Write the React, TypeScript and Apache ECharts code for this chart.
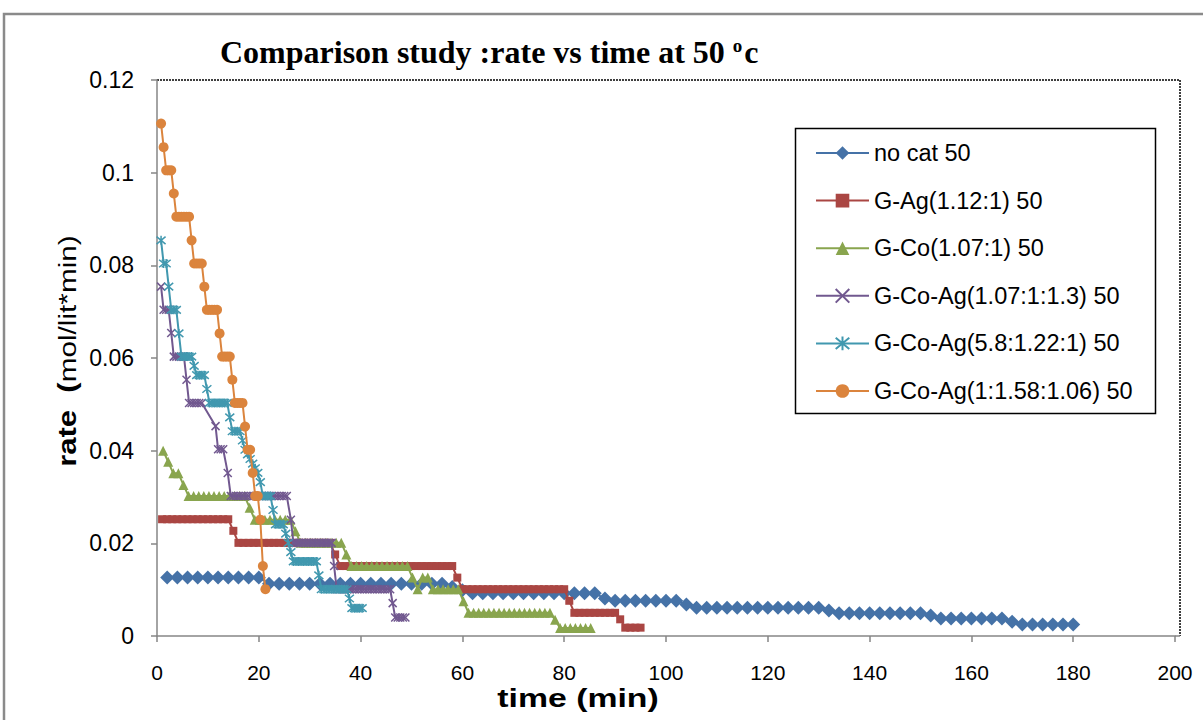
import React, { useEffect, useRef } from "react";
import * as echarts from "echarts";

const SANS = '"Liberation Sans", Arial, sans-serif';
const SERIF = '"Liberation Serif", "Times New Roman", serif';

const seriesNames = [
  "no cat 50",
  "G-Ag(1.12:1) 50",
  "G-Co(1.07:1) 50",
  "G-Co-Ag(1.07:1:1.3) 50",
  "G-Co-Ag(5.8:1.22:1) 50",
  "G-Co-Ag(1:1.58:1.06) 50",
];

const xTicks = [0, 20, 40, 60, 80, 100, 120, 140, 160, 180, 200];
const yTicks = [0, 0.02, 0.04, 0.06, 0.08, 0.1, 0.12];

// no cat 50
const noCatTime = [
  2, 4, 6, 8, 10, 12, 14, 16, 18, 20, 22, 24, 26, 28, 30, 32, 34, 36, 38, 40,
  42, 44, 46, 48, 50, 52, 54, 56, 58, 60, 62, 64, 66, 68, 70, 72, 74, 76, 78, 80,
  82, 84, 86, 88, 90, 92, 94, 96, 98, 100, 102, 104, 106, 108, 110, 112, 114, 116, 118, 120,
  122, 124, 126, 128, 130, 132, 134, 136, 138, 140, 142, 144, 146, 148, 150, 152, 154, 156, 158, 160,
  162, 164, 166, 168, 170, 172, 174, 176, 178, 180,
];
const noCatRate = [
  0.0126, 0.0126, 0.0126, 0.0126, 0.0126, 0.0126, 0.0126, 0.0126, 0.0126, 0.0126,
  0.0113, 0.0113, 0.0113, 0.0113, 0.0113, 0.0113, 0.0113, 0.0113, 0.0113, 0.0113,
  0.0113, 0.0113, 0.0113, 0.0113, 0.0113, 0.0113, 0.0113, 0.0113, 0.0106, 0.0099,
  0.0092, 0.0092, 0.0092, 0.0092, 0.0092, 0.0092, 0.0092, 0.0092, 0.0092, 0.0092,
  0.0092, 0.0092, 0.0092, 0.0081, 0.0076, 0.0076, 0.0076, 0.0076, 0.0076, 0.0076,
  0.0076, 0.0068, 0.0061, 0.0061, 0.0061, 0.0061, 0.0061, 0.0061, 0.0061, 0.0061,
  0.0061, 0.0061, 0.0061, 0.0061, 0.0061, 0.0055, 0.0049, 0.0049, 0.0049, 0.0049,
  0.0049, 0.0049, 0.0049, 0.0049, 0.0049, 0.0044, 0.0038, 0.0038, 0.0038, 0.0038,
  0.0038, 0.0038, 0.0038, 0.0031, 0.0025, 0.0025, 0.0025, 0.0025, 0.0025, 0.0025,
];

// G-Ag(1.12:1) 50
const agTime = [
  1, 2, 3, 4, 5, 6, 7, 8, 9, 10, 11, 12, 13, 14, 15, 16, 17, 18, 19, 20,
  21, 22, 23, 24, 25, 26, 27, 28, 29, 30, 31, 32, 33, 34, 35, 36, 37, 38, 39, 40,
  41, 42, 43, 44, 45, 46, 47, 48, 49, 50, 51, 52, 53, 54, 55, 56, 57, 58, 59, 60,
  61, 62, 63, 64, 65, 66, 67, 68, 69, 70, 71, 72, 73, 74, 75, 76, 77, 78, 79, 80,
  81, 82, 83, 84, 85, 86, 87, 88, 89, 90, 91, 92, 93, 94, 95,
];
const agRate = [
  0.0252, 0.0252, 0.0252, 0.0252, 0.0252, 0.0252, 0.0252, 0.0252, 0.0252, 0.0252,
  0.0252, 0.0252, 0.0252, 0.0252, 0.0227, 0.0201, 0.0201, 0.0201, 0.0201, 0.0201,
  0.0201, 0.0201, 0.0201, 0.0201, 0.0201, 0.0201, 0.0201, 0.0201, 0.0201, 0.0201,
  0.0201, 0.0201, 0.0201, 0.0201, 0.0176, 0.0151, 0.0151, 0.0151, 0.0151, 0.0151,
  0.0151, 0.0151, 0.0151, 0.0151, 0.0151, 0.0151, 0.0151, 0.0151, 0.0151, 0.0151,
  0.0151, 0.0151, 0.0151, 0.0151, 0.0151, 0.0151, 0.0151, 0.0151, 0.0126, 0.0101,
  0.0101, 0.0101, 0.0101, 0.0101, 0.0101, 0.0101, 0.0101, 0.0101, 0.0101, 0.0101,
  0.0101, 0.0101, 0.0101, 0.0101, 0.0101, 0.0101, 0.0101, 0.0101, 0.0101, 0.0101,
  0.0076, 0.005, 0.005, 0.005, 0.005, 0.005, 0.005, 0.005, 0.005, 0.005,
  0.0036, 0.0018, 0.0018, 0.0018, 0.0018,
];

// G-Co(1.07:1) 50
const coTime = [
  1.2, 2.2, 3.2, 4.2, 5.2, 6.2, 7.2, 8.2, 9.2, 10.2, 11.2, 12.2, 13.2, 14.2, 15.2, 16.2, 17.2, 18.2, 19.2, 20.2,
  21.2, 22.2, 23.2, 24.2, 25.2, 26.2, 27.2, 28.2, 29.2, 30.2, 31.2, 32.2, 33.2, 34.2, 35.2, 36.2, 37.2, 38.2, 39.2, 40.2,
  41.2, 42.2, 43.2, 44.2, 45.2, 46.2, 47.2, 48.2, 49.2, 50.2, 51.2, 52.2, 53.2, 54.2, 55.2, 56.2, 57.2, 58.2, 59.2, 60.2,
  61.2, 62.2, 63.2, 64.2, 65.2, 66.2, 67.2, 68.2, 69.2, 70.2, 71.2, 72.2, 73.2, 74.2, 75.2, 76.2, 77.2, 78.2, 79.2, 80.2,
  81.2, 82.2, 83.2, 84.2, 85.2,
];
const coRate = [
  0.04, 0.0376, 0.0351, 0.0351, 0.0326, 0.0302, 0.0302, 0.0302, 0.0302, 0.0302,
  0.0302, 0.0302, 0.0302, 0.0302, 0.0302, 0.0302, 0.0302, 0.0277, 0.0251, 0.0251,
  0.0251, 0.0251, 0.0251, 0.0251, 0.0251, 0.0251, 0.0226, 0.0201, 0.0201, 0.0201,
  0.0201, 0.0201, 0.0201, 0.0201, 0.0201, 0.0201, 0.0176, 0.0151, 0.0151, 0.0151,
  0.0151, 0.0151, 0.0151, 0.0151, 0.0151, 0.0151, 0.0151, 0.0151, 0.0151, 0.0126,
  0.0101, 0.0126, 0.0126, 0.0101, 0.0101, 0.0101, 0.0101, 0.0101, 0.0101, 0.0075,
  0.005, 0.005, 0.005, 0.005, 0.005, 0.005, 0.005, 0.005, 0.005, 0.005,
  0.005, 0.005, 0.005, 0.005, 0.005, 0.005, 0.005, 0.0035, 0.0017, 0.0017,
  0.0017, 0.0017, 0.0017, 0.0017, 0.0017,
];

// G-Co-Ag(1.07:1:1.3) 50
const coAg1Time = [
  0.8, 1.3, 1.8, 2.3, 2.8, 3.3, 3.8, 4.3, 4.8, 5.3, 5.8, 6.3, 6.8, 7.3, 7.8, 8.3, 8.8,
  11.5, 12, 12.5, 13, 13.9,
  14.5, 15, 15.5, 16, 16.5, 17, 17.5, 18, 18.5, 19, 19.5, 20, 20.5, 21, 21.5, 22, 22.5, 23, 23.5, 24, 24.5, 25, 25.5,
  26.3,
  26.8, 27.3, 27.8, 28.3, 28.8, 29.3, 29.8, 30.3, 30.8, 31.3, 31.8, 32.3, 32.8, 33.3, 33.8, 34.3,
  34.8,
  35.3, 35.8, 36.3, 36.8, 37.3, 37.8, 38.3, 38.8, 39.3, 39.8, 40.3, 40.8, 41.3, 41.8, 42.3, 42.8, 43.3, 43.8, 44.3, 44.8, 45.3, 45.8,
  46.3,
  46.8, 47.3, 47.8, 48.3, 48.8,
];
const coAg1Rate = [
  0.0754, 0.0704, 0.0704, 0.0704, 0.0654, 0.0603, 0.0603, 0.0603, 0.0603, 0.0603, 0.0553, 0.0503, 0.0503, 0.0503, 0.0503, 0.0503, 0.0503,
  0.0453, 0.0403, 0.0403, 0.0403, 0.0352,
  0.0302, 0.0302, 0.0302, 0.0302, 0.0302, 0.0302, 0.0302, 0.0302, 0.0302, 0.0302, 0.0302, 0.0302, 0.0302, 0.0302, 0.0302, 0.0302, 0.0302, 0.0302, 0.0302, 0.0302, 0.0302, 0.0302, 0.0302,
  0.0251,
  0.0201, 0.0201, 0.0201, 0.0201, 0.0201, 0.0201, 0.0201, 0.0201, 0.0201, 0.0201, 0.0201, 0.0201, 0.0201, 0.0201, 0.0201, 0.0201,
  0.0151,
  0.0101, 0.0101, 0.0101, 0.0101, 0.0101, 0.0101, 0.0101, 0.0101, 0.0101, 0.0101, 0.0101, 0.0101, 0.0101, 0.0101, 0.0101, 0.0101, 0.0101, 0.0101, 0.0101, 0.0101, 0.0101, 0.0101,
  0.0071,
  0.004, 0.004, 0.004, 0.004, 0.004,
];

// G-Co-Ag(5.8:1.22:1) 50
const coAg2Time = [
  0.8, 1.3, 1.8, 2.3, 2.8, 3.3, 3.8, 4.3, 4.8, 5.3, 5.8, 6.3, 6.8, 7.3, 7.8, 8.3, 8.8, 9.3, 9.8, 10.3,
  10.8, 11.3, 11.8, 12.3, 12.8, 13.3, 13.8, 14.3, 14.8, 15.3, 15.8, 16.3, 16.8, 17.3, 17.8, 18.3, 18.8, 19.3, 19.8, 20.3,
  20.8, 21.3, 21.8, 22.3, 22.8, 23.3, 23.8, 24.3, 24.8, 25.3, 25.8, 26.3, 26.8, 27.3, 27.8, 28.3, 28.8, 29.3, 29.8, 30.3,
  30.8, 31.3, 31.8, 32.3, 32.8, 33.3, 33.8, 34.3, 34.8, 35.3, 35.8, 36.3, 36.8, 37.3, 37.8, 38.3, 38.8, 39.3, 39.8, 40.3,
];
const coAg2Rate = [
  0.0854, 0.0804, 0.0804, 0.0754, 0.0704, 0.0704, 0.0704, 0.0653, 0.0603, 0.0603,
  0.0603, 0.0603, 0.0603, 0.0583, 0.0563, 0.0563, 0.0563, 0.0563, 0.0533, 0.0503,
  0.0503, 0.0503, 0.0503, 0.0503, 0.0503, 0.0503, 0.0503, 0.0472, 0.0442, 0.0442,
  0.0442, 0.0442, 0.0422, 0.0402, 0.0392, 0.0382, 0.0372, 0.0362, 0.0352, 0.0332,
  0.0302, 0.0302, 0.0302, 0.0302, 0.0272, 0.0241, 0.0241, 0.0241, 0.0241, 0.0221,
  0.0201, 0.0181, 0.0161, 0.0161, 0.0161, 0.0161, 0.0161, 0.0161, 0.0161, 0.0161,
  0.0161, 0.0161, 0.0131, 0.0101, 0.0101, 0.0101, 0.0101, 0.0101, 0.0101, 0.0101,
  0.0101, 0.0101, 0.0101, 0.0101, 0.0081, 0.006, 0.006, 0.006, 0.006, 0.006,
];

// G-Co-Ag(1:1.58:1.06) 50
const coAg3Time = [
  0.8, 1.3, 1.8, 2.3, 2.8, 3.3, 3.8, 4.3, 4.8, 5.3, 5.8, 6.3, 6.8, 7.3, 7.8, 8.3, 8.8, 9.3, 9.8, 10.3,
  10.8, 11.3, 11.8, 12.3, 12.8, 13.3, 13.8, 14.3, 14.8, 15.3, 15.8, 16.3, 16.8, 17.3, 17.8, 18.3, 18.8, 19.3, 19.8, 20.3,
  20.8, 21.3,
];
const coAg3Rate = [
  0.1106, 0.1055, 0.1005, 0.1005, 0.1005, 0.0955, 0.0905, 0.0905, 0.0905, 0.0905,
  0.0905, 0.0905, 0.0854, 0.0804, 0.0804, 0.0804, 0.0804, 0.0754, 0.0704, 0.0704,
  0.0704, 0.0704, 0.0704, 0.0653, 0.0603, 0.0603, 0.0603, 0.0603, 0.0553, 0.0503,
  0.0503, 0.0503, 0.0503, 0.0452, 0.0402, 0.0402, 0.0352, 0.0302, 0.0302, 0.0251,
  0.0151, 0.0101,
];

const colors = ["#4572A7", "#AA4643", "#89A54E", "#71588F", "#4198AF", "#DB843D"];
const symbols = [
  "diamond",
  "rect",
  "triangle",
  "path://M0,0L10,10M10,0L0,10",
  "path://M0,0L10,10M10,0L0,10M5,-1L5,11",
  "circle",
];
const symbolSizes = [14, 8, 10, 8, 9, 10];
const borderWidths = [0, 0, 0, 1.5, 1.5, 0];

const times = [noCatTime, agTime, coTime, coAg1Time, coAg2Time, coAg3Time];
const rates = [noCatRate, agRate, coRate, coAg1Rate, coAg2Rate, coAg3Rate];

function pairs(t: number[], r: number[]) {
  return t.map((x, i) => [x, r[i]]);
}

export default function App() {
  const ref = useRef<HTMLDivElement>(null);
  useEffect(() => {
    document.body.style.margin = "0";
    const chart = echarts.init(ref.current!, null, { renderer: "svg" });
    const axisGray = "#868686";
    const option: any = {
      animation: false,
      backgroundColor: "#ffffff",
      grid: { left: 157, top: 80, width: 1018, height: 556, containLabel: false },
      xAxis: {
        type: "value",
        min: xTicks[0],
        max: xTicks[xTicks.length - 1],
        interval: 20,
        axisLine: { show: true, lineStyle: { color: axisGray, width: 1.5 } },
        axisTick: { show: true, inside: false, length: 6, lineStyle: { color: axisGray, width: 1.5 } },
        splitLine: { show: false },
        axisLabel: { color: "#000", fontSize: 21, fontFamily: SANS, margin: 26 },
      },
      yAxis: {
        type: "value",
        min: yTicks[0],
        max: yTicks[yTicks.length - 1],
        interval: 0.02,
        axisLine: { show: true, lineStyle: { color: axisGray, width: 1.5 } },
        axisTick: { show: true, inside: false, length: 6, lineStyle: { color: axisGray, width: 1.5 } },
        splitLine: { show: false },
        axisLabel: { color: "#000", fontSize: 23, fontFamily: SANS, margin: 23 },
      },
      legend: {
        show: true,
        orient: "vertical",
        left: 815,
        top: 141,
        itemWidth: 53,
        itemHeight: 17,
        itemGap: 23.6,
        padding: 0,
        data: seriesNames,
        textStyle: { color: "#000", fontSize: 23.5, fontFamily: SANS, lineHeight: 24 },
      },
      series: seriesNames.map((name, i) => ({
        name,
        type: "line",
        data: pairs(times[i], rates[i]),
        symbol: symbols[i],
        symbolSize: symbolSizes[i],
        showSymbol: true,
        showAllSymbol: true,
        z: 2 + i,
        lineStyle: { color: colors[i], width: 2 },
        itemStyle: { color: colors[i], borderColor: colors[i], borderWidth: borderWidths[i] },
        emphasis: { disabled: true },
      })),
      graphic: [
        {
          type: "polyline",
          silent: true,
          shape: { points: [[4, 725], [4, 14], [1210, 14]] },
          style: { stroke: "#8a8a8a", lineWidth: 2.5, fill: "none" },
        },
        {
          type: "polyline",
          silent: true,
          shape: { points: [[157, 80], [1180, 80], [1180, 636]] },
          style: { stroke: "#000", lineWidth: 1.5, lineDash: [2, 1], fill: "none" },
        },
        {
          type: "line",
          silent: true,
          shape: { x1: 1175, y1: 636, x2: 1180, y2: 636 },
          style: { stroke: axisGray, lineWidth: 1.5 },
        },
        {
          type: "rect",
          silent: true,
          shape: { x: 795.5, y: 128.5, width: 360, height: 285 },
          style: { stroke: "#000", lineWidth: 1.5, fill: "none" },
        },
        {
          type: "text",
          silent: true,
          x: 220,
          y: 52,
          style: {
            text: "{t|Comparison study :rate vs time at 50 }{s|o}{t|c}",
            textVerticalAlign: "middle",
            textAlign: "left",
            rich: {
              t: { fontSize: 32, fontWeight: "bold", fontFamily: SERIF, fill: "#000" },
              s: { fontSize: 19, fontWeight: "bold", fontFamily: SERIF, fill: "#000", padding: [0, 2, 14, 0] },
            },
          },
        },
        {
          type: "text",
          silent: true,
          x: 68,
          y: 351,
          rotation: Math.PI / 2,
          scaleX: 1.24,
          style: {
            text: "{b|rate  (}{n|mol/lit*min)}",
            textAlign: "center",
            textVerticalAlign: "middle",
            rich: {
              b: { fontSize: 25, fontWeight: "bold", fontFamily: SANS, fill: "#000" },
              n: { fontSize: 24, fontFamily: SANS, fill: "#000" },
            },
          },
        },
        {
          type: "text",
          silent: true,
          x: 578,
          y: 698,
          scaleX: 1.3,
          style: {
            text: "time (min)",
            textAlign: "center",
            textVerticalAlign: "middle",
            fontSize: 26,
            fontWeight: "bold",
            fontFamily: SANS,
            fill: "#000",
          },
        },
      ],
    };
    chart.setOption(option);
    return () => chart.dispose();
  }, []);
  return <div ref={ref} style={{ width: 1203, height: 720, background: "#fff" }} />;
}
